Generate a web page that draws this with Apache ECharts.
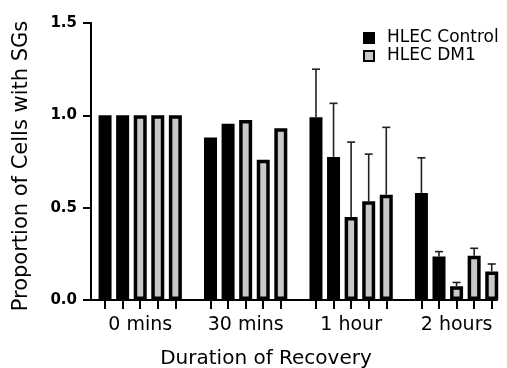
<!DOCTYPE html>
<html>
<head>
<meta charset="utf-8">
<script src="https://cdn.jsdelivr.net/npm/echarts@6/dist/echarts.min.js"></script>
<style>
  html, body { margin: 0; padding: 0; background: #fff; }
  #chart { width: 507px; height: 368px; }
</style>
</head>
<body>
<div id="chart"></div>
<script>
// groups along the x axis, 2 control bars + 3 DM1 bars each
const groups = ["0 mins", "30 mins", "1 hour", "2 hours"];
const controlValues = [
  [1.0, 1.0],
  [0.88, 0.955],
  [0.99, 0.775],
  [0.58, 0.235],
];
const dm1Values = [
  [1.0, 1.0, 1.0],
  [0.975, 0.76, 0.93],
  [0.45, 0.535, 0.57],
  [0.075, 0.24, 0.155],
];
// upper error (SD), null where the bar has none
const controlErr = [
  [null, null],
  [null, null],
  [0.26, 0.29],
  [0.19, 0.027],
];
const dm1Err = [
  [null, null, null],
  [null, null, null],
  [0.405, 0.255, 0.365],
  [0.02, 0.04, 0.04],
];
const yTicks = [0, 0.5, 1.0, 1.5];

const FONT = "DejaVu Sans";
const slotsPerGroup = 6; // 5 bars + 1 blank slot

const controlData = [];
const dm1Data = [];
const errData = [];
const tickPos = [];
const labelPos = [];
groups.forEach(function (g, gi) {
  const base = gi * slotsPerGroup;
  controlValues[gi].forEach(function (v, i) {
    controlData.push([base + i, v]);
    tickPos.push(base + i);
    if (controlErr[gi][i] != null) errData.push([base + i, v, v + controlErr[gi][i]]);
  });
  dm1Values[gi].forEach(function (v, i) {
    const x = base + 2 + i;
    dm1Data.push([x, v]);
    tickPos.push(x);
    if (dm1Err[gi][i] != null) errData.push([x, v, v + dm1Err[gi][i]]);
  });
  labelPos.push(base + 2);
});

const chart = echarts.init(document.getElementById("chart"));

const option = {
  animation: false,
  backgroundColor: "#fff",
  grid: { left: 91, right: 10, top: 23, bottom: 68 },
  legend: {
    orient: "vertical",
    left: 358,
    top: 24,
    itemWidth: 10,
    itemHeight: 10,
    itemGap: 0,
    icon: "rect",
    textStyle: {
      fontFamily: FONT,
      fontSize: 17,
      color: "#000",
      lineHeight: 18,
      padding: [0, 0, 0, 8],
    },
    data: ["HLEC Control", "HLEC DM1"],
  },
  xAxis: {
    type: "value",
    min: -0.8,
    max: 22.3,
    splitLine: { show: false },
    axisLine: { onZero: false, lineStyle: { color: "#000", width: 2 } },
    axisTick: {
      show: true,
      length: 9,
      customValues: tickPos,
      lineStyle: { color: "#000", width: 2 },
    },
    axisLabel: {
      customValues: labelPos,
      margin: 16,
      fontFamily: FONT,
      fontSize: 19,
      color: "#000",
      formatter: function (v) {
        return groups[Math.round((v - 2) / slotsPerGroup)];
      },
    },
  },
  yAxis: {
    type: "value",
    min: 0,
    max: 1.5,
    interval: 0.5,
    splitLine: { show: false },
    axisLine: { show: true, onZero: false, lineStyle: { color: "#000", width: 2 } },
    axisTick: { show: true, length: 8, lineStyle: { color: "#000", width: 2 } },
    axisLabel: {
      margin: 14,
      fontFamily: FONT,
      fontSize: 15,
      fontWeight: "bold",
      color: "#000",
      customValues: yTicks,
      formatter: function (v) {
        return v.toFixed(1);
      },
    },
  },
  graphic: [
    {
      type: "text",
      x: 22,
      y: 166,
      rotation: Math.PI / 2,
      style: {
        text: "Proportion of Cells with SGs",
        fontFamily: FONT,
        fontSize: 21,
        fill: "#000",
        textAlign: "center",
        textVerticalAlign: "middle",
      },
    },
    {
      type: "text",
      x: 266,
      y: 359,
      style: {
        text: "Duration of Recovery",
        fontFamily: FONT,
        fontSize: 20,
        fill: "#000",
        textAlign: "center",
        textVerticalAlign: "middle",
      },
    },
  ],
  series: [
    {
      name: "HLEC Control",
      type: "bar",
      barWidth: 13,
      barGap: "-100%",
      itemStyle: { color: "#000", borderColor: "#000", borderWidth: 3.5 },
      data: controlData,
    },
    {
      name: "HLEC DM1",
      type: "bar",
      barWidth: 13,
      barGap: "-100%",
      itemStyle: { color: "#c8c8c8", borderColor: "#000", borderWidth: 3.5 },
      data: dm1Data,
    },
    {
      type: "custom",
      z: 3,
      data: errData,
      renderItem: function (params, api) {
        const b = api.coord([api.value(0), api.value(1)]);
        const t = api.coord([api.value(0), api.value(2)]);
        const st = { stroke: "#222", lineWidth: 1.6 };
        return {
          type: "group",
          children: [
            { type: "line", shape: { x1: b[0], y1: b[1], x2: t[0], y2: t[1] }, style: st },
            { type: "line", shape: { x1: t[0] - 4, y1: t[1], x2: t[0] + 4, y2: t[1] }, style: st },
          ],
        };
      },
    },
  ],
};

chart.setOption(option);
</script>
</body>
</html>
